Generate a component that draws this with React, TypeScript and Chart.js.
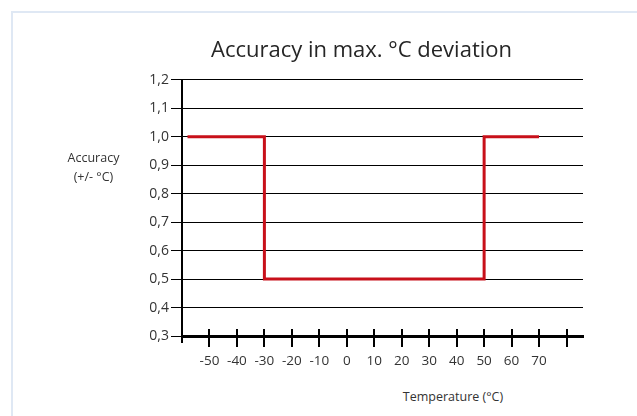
import React, { useEffect, useRef } from "react";
import { Chart, registerables } from "chart.js";

Chart.register(...registerables);

const chartTitle = "Accuracy in max. °C deviation";
const yAxisLabelLines = ["Accuracy", "(+/- °C)"];
const xAxisLabel = "Temperature (°C)";

const stepX = [-58, -30, 50, 70];
const stepY = [1.0, 0.5, 1.0, 1.0];

const xTickValues = [-50, -40, -30, -20, -10, 0, 10, 20, 30, 40, 50, 60, 70, 80];
const xTickLabels = ["-50", "-40", "-30", "-20", "-10", "0", "10", "20", "30", "40", "50", "60", "70", ""];
const yTickValues = [0.3, 0.4, 0.5, 0.6, 0.7, 0.8, 0.9, 1.0, 1.1, 1.2];
const yTickLabels = ["0,3", "0,4", "0,5", "0,6", "0,7", "0,8", "0,9", "1,0", "1,1", "1,2"];

const FONT = "'Open Sans', 'DejaVu Sans', sans-serif";

const crossTicks = {
  id: "crossTicks",
  afterDraw(chart: any) {
    const xs = chart.scales.x;
    const area = chart.chartArea;
    const ctx = chart.ctx;
    ctx.save();
    ctx.strokeStyle = "#000";
    ctx.lineWidth = 2;
    ctx.beginPath();
    xs.ticks.forEach((t: any) => {
      const px = Math.round(xs.getPixelForValue(t.value));
      ctx.moveTo(px, area.bottom - 7);
      ctx.lineTo(px, area.bottom);
    });
    ctx.moveTo(area.left, area.bottom);
    ctx.lineTo(area.left, area.bottom + 7);
    ctx.stroke();
    ctx.restore();
  },
};

export default function App() {
  const ref = useRef<HTMLCanvasElement | null>(null);

  useEffect(() => {
    if (!ref.current) return;
    const chart = new Chart(ref.current, {
      type: "line",
      data: {
        datasets: [
          {
            data: stepX.map((x, i) => ({ x, y: stepY[i] })),
            borderColor: "#c8101a",
            borderWidth: 3,
            stepped: "before",
            pointRadius: 0,
            fill: false,
          },
        ],
      },
      options: {
        animation: false,
        responsive: true,
        maintainAspectRatio: false,
        layout: { padding: { left: 0, right: 11, top: 0, bottom: 14 } },
        plugins: {
          legend: { display: false },
          tooltip: { enabled: false },
          title: {
            display: true,
            text: chartTitle,
            color: "#262626",
            font: { family: FONT, size: 22, weight: "normal" },
            padding: { top: 17.5, bottom: 16 },
          },
        },
        scales: {
          x: {
            type: "linear",
            min: -60,
            max: 86,
            afterBuildTicks(scale: any) {
              scale.ticks = xTickValues.map((v) => ({ value: v }));
            },
            afterFit(scale: any) {
              scale.height = 30;
            },
            ticks: {
              autoSkip: false,
              maxRotation: 0,
              padding: 6,
              color: "#333",
              font: { family: FONT, size: 13.5 },
              callback: (_v: any, i: number) => xTickLabels[i],
            },
            grid: {
              drawOnChartArea: false,
              drawTicks: true,
              tickLength: 11,
              color: "#000",
              lineWidth: 2,
            },
            border: { color: "#000", width: 3 },
          },
          y: {
            type: "linear",
            min: 0.3,
            max: 1.2,
            afterBuildTicks(scale: any) {
              scale.ticks = yTickValues.map((v) => ({ value: v }));
            },
            afterFit(scale: any) {
              scale.width = 42;
            },
            ticks: {
              autoSkip: false,
              padding: 2,
              color: "#333",
              font: { family: FONT, size: 14 },
              callback: (_v: any, i: number) => yTickLabels[i],
            },
            grid: {
              color: "#000",
              lineWidth: 1,
              tickLength: 11,
            },
            border: { color: "#000", width: 2 },
          },
        },
      },
      plugins: [crossTicks],
    } as any);
    return () => chart.destroy();
  }, []);

  return (
    <div
      style={{
        position: "fixed",
        left: 0,
        top: 0,
        width: 637,
        height: 416,
        overflow: "hidden",
        background: "#fff",
      }}
    >
      <div
        style={{
          position: "absolute",
          left: 11,
          top: 11,
          width: 700,
          height: 500,
          border: "2px solid #dfe8f4",
        }}
      />
      <div
        style={{
          position: "absolute",
          left: 140,
          top: 20,
          width: 454,
          height: 360,
        }}
      >
        <canvas ref={ref} />
      </div>
      <div
        style={{
          position: "absolute",
          left: 43,
          top: 148,
          width: 101,
          textAlign: "center",
          fontFamily: FONT,
          fontSize: 12.5,
          lineHeight: "19px",
          color: "#333",
        }}
      >
        {yAxisLabelLines.map((l) => (
          <div key={l}>{l}</div>
        ))}
      </div>
      <div
        style={{
          position: "absolute",
          left: 353,
          top: 387,
          width: 200,
          textAlign: "center",
          fontFamily: FONT,
          fontSize: 12.5,
          lineHeight: "20px",
          color: "#333",
        }}
      >
        {xAxisLabel}
      </div>
    </div>
  );
}
